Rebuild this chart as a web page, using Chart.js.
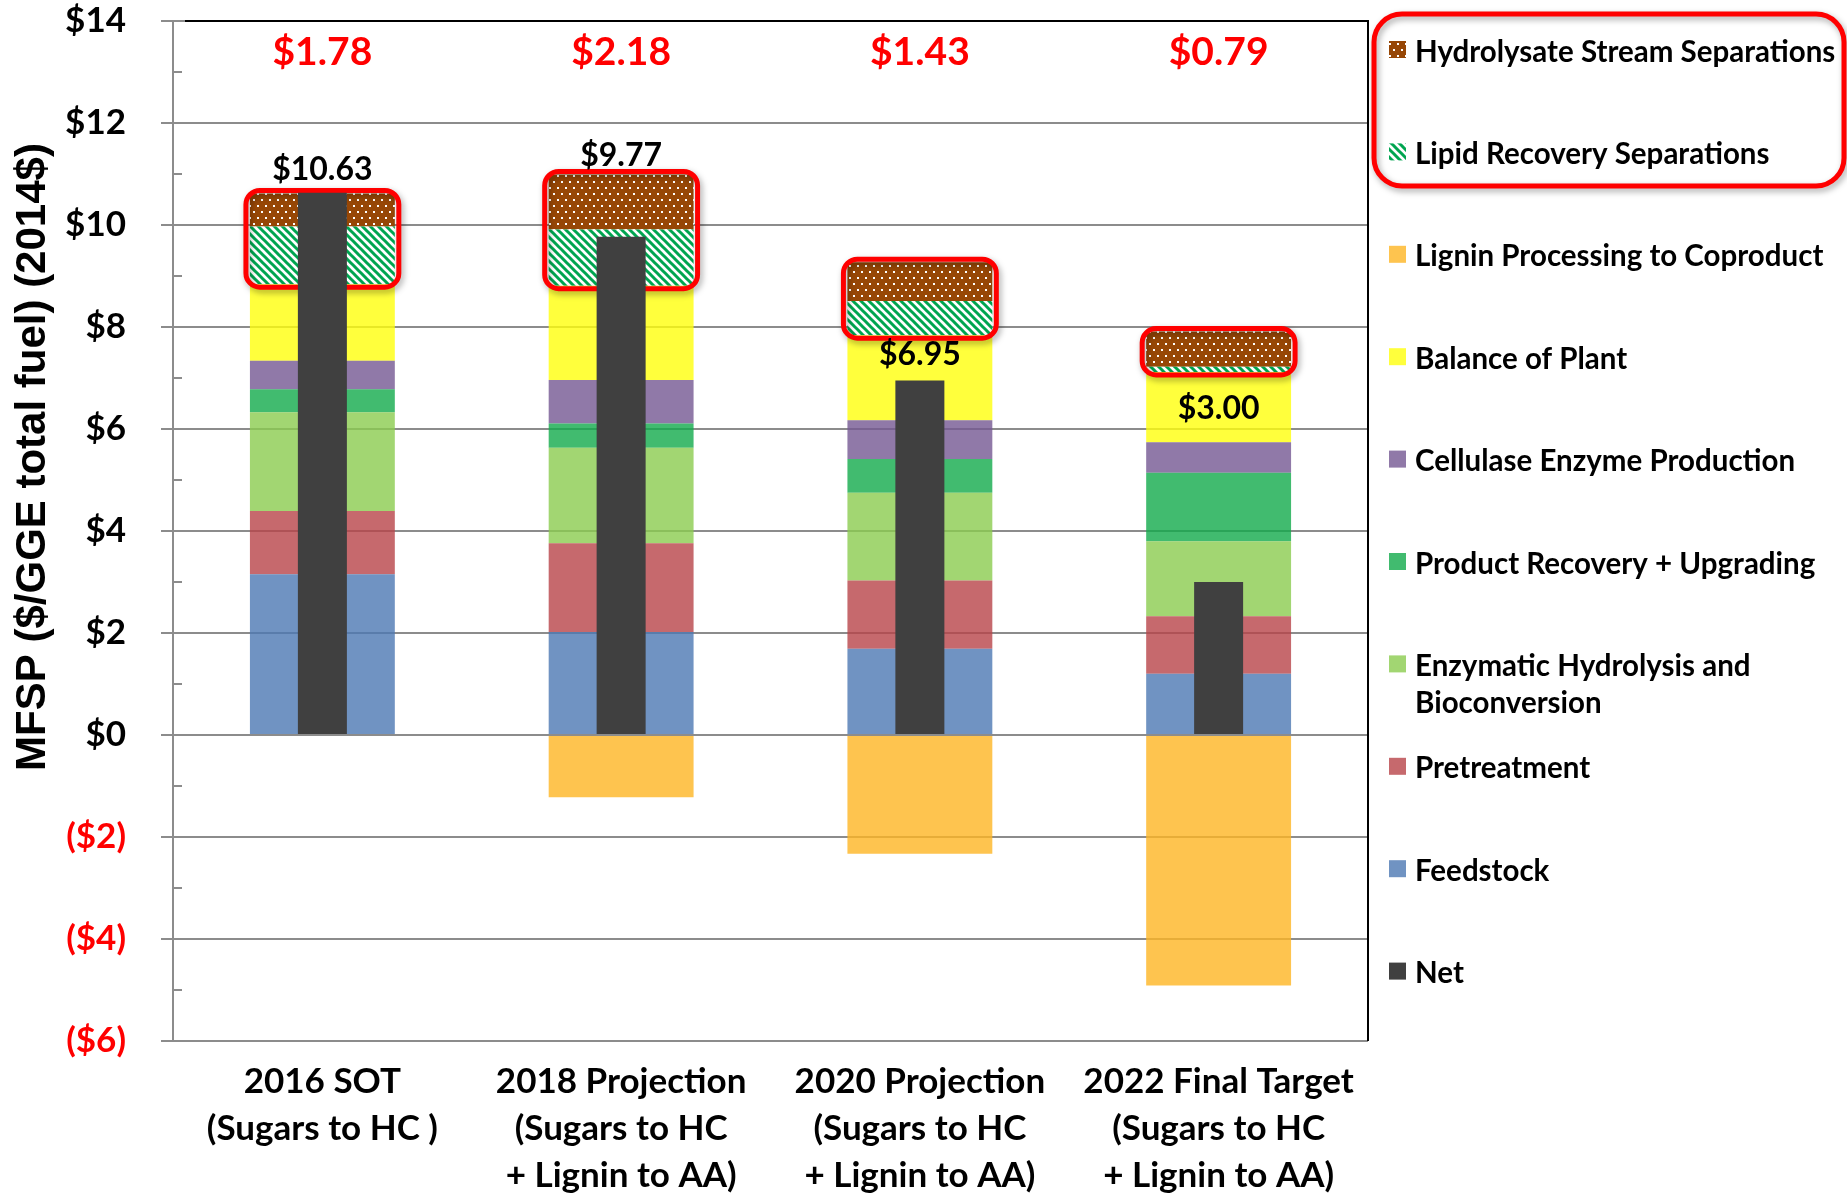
<!DOCTYPE html>
<html><head><meta charset="utf-8">
<script src="https://cdn.jsdelivr.net/npm/chart.js@4.4.1/dist/chart.umd.min.js"></script>
<style>html,body{margin:0;padding:0;background:#fff;}#wrap{width:1847px;height:1195px;}</style>
</head><body><div id="wrap"><canvas id="c" width="1847" height="1195"></canvas></div>
<script>
// ---------------- DATA ----------------
const categories = [
  ['2016 SOT', '(Sugars to HC )'],
  ['2018 Projection', '(Sugars to HC', '+ Lignin to AA)'],
  ['2020 Projection', '(Sugars to HC', '+ Lignin to AA)'],
  ['2022 Final Target', '(Sugars to HC', '+ Lignin to AA)']
];
const feedstock = [3.15, 2.02, 1.69, 1.20];
const pretreatment = [1.24, 1.74, 1.34, 1.13];
const enzymaticHydrolysis = [1.94, 1.87, 1.72, 1.47];
const productRecovery = [0.45, 0.48, 0.66, 1.34];
const cellulaseEnzyme = [0.56, 0.85, 0.76, 0.60];
const balanceOfPlant = [1.50, 1.85, 1.67, 1.38];
const lipidRecovery = [1.13, 1.10, 0.67, 0.10];
const hydrolysateSeparations = [0.65, 1.08, 0.76, 0.69];
const ligninCoproduct = [0, -1.22, -2.33, -4.91];
const net = [10.63, 9.77, 6.95, 3.00];
const netLabels = ['$10.63', '$9.77', '$6.95', '$3.00'];
const separationLabels = ['$1.78', '$2.18', '$1.43', '$0.79'];
const yMin = -6, yMax = 14, yStep = 2;

// ---------------- PATTERNS ----------------
function dotPattern() {
  const t = document.createElement('canvas'); t.width = 8; t.height = 12;
  const g = t.getContext('2d');
  g.fillStyle = '#974706'; g.fillRect(0, 0, 8, 12);
  g.fillStyle = '#ffffff';
  g.fillRect(1, 1, 2, 2); g.fillRect(5, 7, 2, 2);
  return g.createPattern(t, 'repeat');
}
function stripePattern() {
  const t = document.createElement('canvas'); t.width = 8; t.height = 8;
  const g = t.getContext('2d');
  g.fillStyle = '#ffffff'; g.fillRect(0, 0, 8, 8);
  g.strokeStyle = '#00a550'; g.lineWidth = 3;
  g.beginPath();
  g.moveTo(-4, -4); g.lineTo(12, 12);
  g.moveTo(-4, 4); g.lineTo(4, 12);
  g.moveTo(4, -4); g.lineTo(12, 4);
  g.stroke();
  return g.createPattern(t, 'repeat');
}
const dots = dotPattern();
const stripes = stripePattern();

const FONT = 'Lato, "Open Sans", sans-serif';
const W_COMP = 0.485, W_NET = 0.164;

function ds(label, data, bg, legendColor, stack, pct) {
  return { label, data, backgroundColor: bg, legendColor: legendColor, stack,
    barPercentage: pct, categoryPercentage: 1, grouped: false, borderWidth: 0 };
}
const datasets = [
  ds('Net', net, '#404040', '#404040', 'net', W_NET),
  ds('Feedstock', feedstock, 'rgba(76,120,179,0.8)', '#7093C2', 'cost', W_COMP),
  ds('Pretreatment', pretreatment, 'rgba(184,68,73,0.8)', '#C6696D', 'cost', W_COMP),
  ds('Enzymatic Hydrolysis and\nBioconversion', enzymaticHydrolysis, 'rgba(139,204,79,0.8)', '#A2D672', 'cost', W_COMP),
  ds('Product Recovery + Upgrading', productRecovery, 'rgba(18,170,75,0.8)', '#41BB6F', 'cost', W_COMP),
  ds('Cellulase Enzyme Production', cellulaseEnzyme, 'rgba(116,88,146,0.8)', '#9079A8', 'cost', W_COMP),
  ds('Balance of Plant', balanceOfPlant, 'rgba(255,255,11,0.8)', '#FFFF3C', 'cost', W_COMP),
  ds('Lipid Recovery Separations', lipidRecovery, stripes, stripes, 'cost', W_COMP),
  ds('Hydrolysate Stream Separations', hydrolysateSeparations, dots, dots, 'cost', W_COMP),
  ds('Lignin Processing to Coproduct', ligninCoproduct, 'rgba(254,181,35,0.8)', '#FEC44F', 'cost', W_COMP)
];
const legendOrder = [8, 7, 9, 6, 5, 4, 3, 2, 1, 0];

function roundRectPath(c, x, y, w, h, r) {
  c.beginPath();
  c.moveTo(x + r, y);
  c.lineTo(x + w - r, y); c.arcTo(x + w, y, x + w, y + r, r);
  c.lineTo(x + w, y + h - r); c.arcTo(x + w, y + h, x + w - r, y + h, r);
  c.lineTo(x + r, y + h); c.arcTo(x, y + h, x, y + h - r, r);
  c.lineTo(x, y + r); c.arcTo(x, y, x + r, y, r);
  c.closePath();
}
function redBox(c, x, y, w, h, r) {
  c.save();
  c.shadowColor = 'rgba(0,0,0,0.35)'; c.shadowBlur = 6; c.shadowOffsetX = 2; c.shadowOffsetY = 3;
  c.strokeStyle = '#FF0000'; c.lineWidth = 5;
  roundRectPath(c, x, y, w, h, r); c.stroke();
  c.restore();
}

const decorations = {
  id: 'decorations',
  afterDatasetDraw(chart, args) {
    if (args.index !== 1) return; // after all cost bars, before Net bar
    const c = chart.ctx;
    const hs = chart.getDatasetMeta(8).data, lr = chart.getDatasetMeta(7).data;
    hs.forEach((b, i) => {
      const l = lr[i];
      const x0 = b.x - b.width / 2 - 4, x1 = b.x + b.width / 2 + 4;
      const y0 = Math.min(b.y, b.base) - 3, y1 = Math.max(l.y, l.base) + 3;
      redBox(c, x0, y0, x1 - x0, y1 - y0, 14);
    });
  },
  afterDatasetsDraw(chart) {
    const c = chart.ctx, a = chart.chartArea, y = chart.scales.y, x = chart.scales.x;
    c.save();
    c.strokeStyle = '#000'; c.lineWidth = 2;
    c.beginPath(); c.moveTo(a.left + 12, a.top); c.lineTo(a.right, a.top); c.lineTo(a.right, a.bottom); c.stroke();
    c.strokeStyle = '#8c8c8c'; c.lineWidth = 2;
    for (let v = yMin + 1; v < yMax; v += 2) {
      const py = Math.round(y.getPixelForValue(v));
      c.beginPath(); c.moveTo(a.left, py); c.lineTo(a.left + 9, py); c.stroke();
    }
    c.fillStyle = '#FF0000'; c.font = 'bold 39px ' + FONT;
    c.textAlign = 'center'; c.textBaseline = 'middle';
    separationLabels.forEach((t, i) => c.fillText(t, x.getPixelForValue(i), 52));
    const hs = chart.getDatasetMeta(8).data;
    const dy = [-24, -19, 92, 77];
    c.fillStyle = '#000'; c.font = 'bold 32px ' + FONT;
    netLabels.forEach((t, i) => c.fillText(t, hs[i].x, hs[i].y + dy[i]));
    c.restore();
  },
  afterDraw(chart) {
    const c = chart.ctx;
    c.save();
    c.translate(33, 457); c.rotate(-Math.PI / 2);
    c.fillStyle = '#000'; c.font = 'bold 42px "Liberation Sans", Arial, sans-serif';
    c.textAlign = 'center'; c.textBaseline = 'middle';
    c.fillText('MFSP ($/GGE total fuel) (2014$)', 0, 0);
    c.restore();
    c.save();
    c.font = 'bold 29.5px ' + FONT; c.textBaseline = 'middle'; c.textAlign = 'left';
    legendOrder.forEach((di, k) => {
      const d = chart.data.datasets[di];
      const cy = 52 + k * 102.4;
      c.fillStyle = d.legendColor;
      c.fillRect(1389, cy - 11, 17, 17);
      c.fillStyle = '#000';
      d.label.split('\n').forEach((ln, j) => c.fillText(ln, 1415, cy + j * 37));
    });
    c.restore();
    redBox(c, 1374, 14, 470, 172, 28);
  }
};

new Chart(document.getElementById('c'), {
  type: 'bar',
  data: { labels: categories, datasets },
  options: {
    responsive: false, animation: false, devicePixelRatio: 1,
    layout: { padding: { left: 0, right: 479, top: 21, bottom: 0 } },
    plugins: { legend: { display: false }, tooltip: { enabled: false } },
    scales: {
      x: {
        stacked: true,
        grid: { display: false, drawTicks: false },
        border: { display: false },
        ticks: { color: '#000', font: { family: FONT, weight: 'bold', size: 35, lineHeight: 1.34 },
                 padding: 17, maxRotation: 0, autoSkip: false },
        afterFit: s => { s.height = 154; s.paddingLeft = 0; s.paddingRight = 0; }
      },
      y: {
        stacked: true, min: yMin, max: yMax,
        grid: { color: '#8c8c8c', lineWidth: 2, tickLength: 12, drawTicks: true },
        border: { display: true, color: '#8c8c8c', width: 2 },
        ticks: {
          stepSize: yStep, padding: 35,
          font: { family: FONT, weight: 'bold', size: 35 },
          color: ctx => (ctx.tick && ctx.tick.value < 0) ? '#FF0000' : '#000',
          callback: v => v < 0 ? '($' + (-v) + ')' : '$' + v
        },
        afterFit: s => { s.width = 173; s.paddingTop = 0; s.paddingBottom = 0; }
      }
    }
  },
  plugins: [decorations]
});
</script>
</body></html>
